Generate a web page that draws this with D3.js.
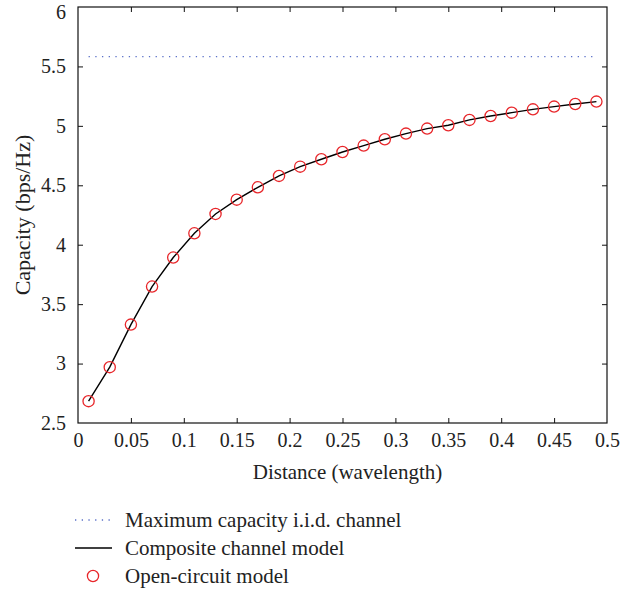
<!DOCTYPE html>
<html>
<head>
<meta charset="utf-8">
<script src="https://cdn.jsdelivr.net/npm/d3@7"></script>
<style>
  html, body { margin: 0; padding: 0; background: #fff; }
  svg text { font-family: "Liberation Serif", "DejaVu Serif", serif; fill: #222; }
</style>
</head>
<body>
<svg id="chart" width="641" height="592"></svg>
<script>
// Antenna spacing in wavelengths
const distance = [0.01, 0.03, 0.05, 0.07, 0.09, 0.11, 0.13, 0.15, 0.17, 0.19, 0.21, 0.23,
  0.25, 0.27, 0.29, 0.31, 0.33, 0.35, 0.37, 0.39, 0.41, 0.43, 0.45, 0.47, 0.49];
// Capacity of the composite channel model (bps/Hz)
const compositeCapacity = [2.684, 2.970, 3.328, 3.648, 3.892, 4.096, 4.259, 4.379, 4.483,
  4.579, 4.657, 4.719, 4.780, 4.834, 4.887, 4.935, 4.977, 5.005, 5.050, 5.083, 5.111,
  5.139, 5.162, 5.184, 5.204];
// Capacity of the open-circuit model (bps/Hz)
const openCircuitCapacity = [2.684, 2.970, 3.328, 3.648, 3.892, 4.096, 4.259, 4.379, 4.483,
  4.579, 4.657, 4.719, 4.780, 4.834, 4.887, 4.935, 4.977, 5.005, 5.050, 5.083, 5.111,
  5.139, 5.162, 5.184, 5.204];
// Upper bound for an i.i.d. channel
const maxCapacity = 5.582;
const maxCapacityRange = [0.01, 0.49];

const xTicks = [0, 0.05, 0.1, 0.15, 0.2, 0.25, 0.3, 0.35, 0.4, 0.45, 0.5];
const yTicks = [2.5, 3, 3.5, 4, 4.5, 5, 5.5, 6];
const legendLabels = ["Maximum capacity i.i.d. channel", "Composite channel model", "Open-circuit model"];

const svg = d3.select("#chart");
const plot = { left: 78, right: 607, top: 7, bottom: 423 };

const x = d3.scaleLinear().domain([0, 0.5]).range([plot.left, plot.right]);
const y = d3.scaleLinear().domain([2.5, 6]).range([plot.bottom, plot.top]);

const fmt = d => String(d);
const tickLen = 5;
const tickFont = 20;
const titleFont = 21;

// Axes: ticks point inward and are mirrored on the top and right edges
const axisBottom = d3.axisBottom(x).tickValues(xTicks).tickFormat(fmt).tickSizeInner(-tickLen).tickSizeOuter(0).tickPadding(10);
const axisTop = d3.axisTop(x).tickValues(xTicks).tickFormat("").tickSizeInner(-tickLen).tickSizeOuter(0);
const axisLeft = d3.axisLeft(y).tickValues(yTicks).tickFormat(fmt).tickSizeInner(-tickLen).tickSizeOuter(0).tickPadding(12);
const axisRight = d3.axisRight(y).tickValues(yTicks).tickFormat("").tickSizeInner(-tickLen).tickSizeOuter(0);

function styleAxis(g) {
  g.select(".domain").remove();
  g.selectAll(".tick line").attr("stroke", "#111").attr("stroke-width", 1);
  g.selectAll(".tick text").attr("font-size", tickFont).attr("fill", "#222")
    .style("font-family", '"Liberation Serif", "DejaVu Serif", serif');
}

svg.append("g").attr("transform", `translate(0,${plot.bottom})`).call(axisBottom).call(styleAxis);
svg.append("g").attr("transform", `translate(0,${plot.top})`).call(axisTop).call(styleAxis);
const leftAxis = svg.append("g").attr("transform", `translate(${plot.left},0)`).call(axisLeft).call(styleAxis);
svg.append("g").attr("transform", `translate(${plot.right},0)`).call(axisRight).call(styleAxis);

// Keep the topmost label inside the page
leftAxis.selectAll(".tick text").filter(d => d === 6).attr("dy", "0.56em");

// Hide tick marks that sit on the frame corners
svg.selectAll(".tick").filter(d => d === 0 || d === 0.5 || d === 2.5 || d === 6).select("line").remove();

// Plot frame
svg.append("rect")
  .attr("x", plot.left).attr("y", plot.top)
  .attr("width", plot.right - plot.left).attr("height", plot.bottom - plot.top)
  .attr("fill", "none").attr("stroke", "#111").attr("stroke-width", 1.2);

// Maximum capacity reference (dotted)
svg.append("line")
  .attr("x1", x(maxCapacityRange[0])).attr("x2", x(maxCapacityRange[1]))
  .attr("y1", y(maxCapacity)).attr("y2", y(maxCapacity))
  .attr("stroke", "#5a70c8").attr("stroke-width", 1.3)
  .attr("stroke-dasharray", "1.3,5.4");

// Composite channel model curve
const line = d3.line().x((d, i) => x(distance[i])).y(d => y(d));
svg.append("path")
  .datum(compositeCapacity)
  .attr("d", line)
  .attr("fill", "none").attr("stroke", "#000").attr("stroke-width", 1.4);

// Open-circuit model markers
svg.append("g").selectAll("circle")
  .data(openCircuitCapacity)
  .join("circle")
  .attr("cx", (d, i) => x(distance[i]))
  .attr("cy", d => y(d))
  .attr("r", 5.6)
  .attr("fill", "none").attr("stroke", "#e8262a").attr("stroke-width", 1.3);

// Axis titles
svg.append("text")
  .attr("x", (plot.left + plot.right) / 2 + 5).attr("y", 479)
  .attr("text-anchor", "middle").attr("font-size", titleFont)
  .text("Distance (wavelength)");

svg.append("text")
  .attr("transform", `translate(30,${(plot.top + plot.bottom) / 2}) rotate(-90)`)
  .attr("text-anchor", "middle").attr("font-size", 22)
  .text("Capacity (bps/Hz)");

// Legend
const legend = svg.append("g");
const legendY = [520, 548, 576];
const sampleX = [75, 112];

legend.append("line")
  .attr("x1", sampleX[0]).attr("x2", sampleX[1]).attr("y1", legendY[0]).attr("y2", legendY[0])
  .attr("stroke", "#5a70c8").attr("stroke-width", 1.3).attr("stroke-dasharray", "1.3,5.4");
legend.append("line")
  .attr("x1", sampleX[0]).attr("x2", sampleX[1]).attr("y1", legendY[1]).attr("y2", legendY[1])
  .attr("stroke", "#000").attr("stroke-width", 1.4);
legend.append("circle")
  .attr("cx", (sampleX[0] + sampleX[1]) / 2 - 0.5).attr("cy", legendY[2]).attr("r", 5.6)
  .attr("fill", "none").attr("stroke", "#e8262a").attr("stroke-width", 1.3);

legend.selectAll("text.label")
  .data(legendLabels)
  .join("text")
  .attr("class", "label")
  .attr("x", 125).attr("y", (d, i) => legendY[i])
  .attr("dy", "0.33em")
  .attr("font-size", titleFont)
  .text(d => d);
</script>
</body>
</html>
